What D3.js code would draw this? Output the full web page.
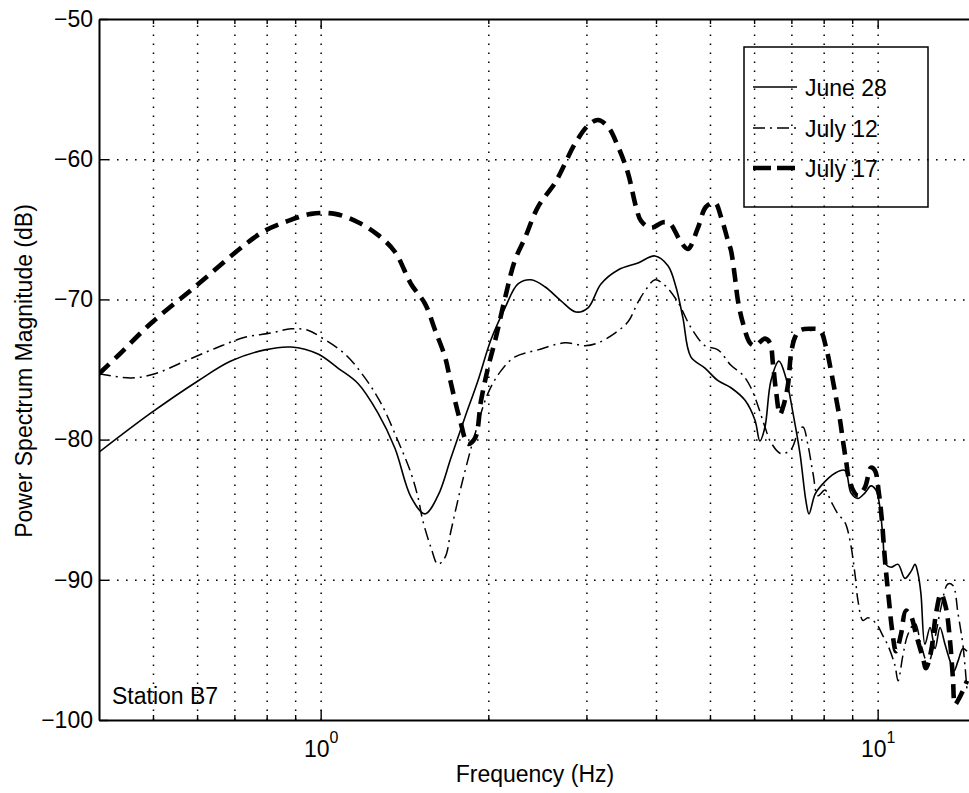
<!DOCTYPE html>
<html>
<head>
<meta charset="utf-8">
<script src="https://cdn.jsdelivr.net/npm/d3@7"></script>
<style>
  body { margin: 0; background: #fff; }
  svg { display: block; font-family: "Liberation Sans", Arial, Helvetica, sans-serif; }
</style>
</head>
<body>
<svg id="chart" width="969" height="793"></svg>
<script>
// ---- Power spectra at station B7 (frequency in Hz, magnitude in dB) ----
const freqJune28 = [0.4, 0.496, 0.603, 0.69, 0.794, 0.885, 0.989, 1.074, 1.167, 1.267, 1.359, 1.453, 1.539, 1.624, 1.714, 1.816, 1.916, 2.021, 2.143, 2.261, 2.386, 2.527, 2.701, 2.873, 3.02, 3.186, 3.419, 3.713, 3.983, 4.203, 4.343, 4.47, 4.62, 4.897, 5.169, 5.453, 5.78, 6.021, 6.147, 6.276, 6.433, 6.65, 6.845, 7.046, 7.254, 7.436, 7.529, 7.717, 7.911, 8.381, 8.735, 8.955, 9.22, 9.489, 9.728, 9.931, 10.1, 10.22, 10.35, 10.57, 10.88, 11.19, 11.48, 11.67, 11.82, 11.96, 12.16, 12.42, 12.68, 12.94, 13.21, 13.49, 13.71, 13.94, 14.23, 14.47];
const dbJune28 = [-80.9, -78.1, -75.8, -74.4, -73.6, -73.4, -73.9, -74.9, -76.0, -78.1, -80.6, -84.1, -85.3, -84.0, -81.3, -78.4, -75.8, -72.9, -70.6, -68.9, -68.6, -69.1, -70.1, -70.9, -70.6, -68.9, -67.9, -67.4, -66.9, -67.6, -69.1, -71.3, -74.1, -74.9, -75.8, -76.3, -77.2, -78.6, -80.1, -79.1, -75.8, -74.4, -75.6, -78.1, -81.0, -84.4, -85.3, -83.9, -83.3, -82.4, -82.2, -83.8, -84.2, -83.8, -83.3, -83.6, -84.9, -87.0, -88.9, -89.1, -88.9, -89.9, -89.4, -88.9, -89.6, -91.0, -94.6, -93.4, -94.9, -93.4, -94.6, -95.8, -96.5, -95.8, -94.9, -95.1];

const freqJuly12 = [0.4, 0.457, 0.504, 0.571, 0.646, 0.731, 0.814, 0.885, 0.949, 1.001, 1.106, 1.201, 1.283, 1.377, 1.453, 1.495, 1.526, 1.578, 1.624, 1.672, 1.714, 1.786, 1.893, 1.997, 2.107, 2.233, 2.456, 2.746, 2.982, 3.147, 3.376, 3.563, 3.713, 3.822, 3.983, 4.15, 4.38, 4.62, 4.897, 5.169, 5.453, 5.73, 5.923, 6.098, 6.276, 6.433, 6.706, 6.989, 7.194, 7.344, 7.498, 7.654, 7.813, 8.043, 8.246, 8.486, 8.735, 8.92, 9.105, 9.22, 9.41, 9.609, 9.931, 10.22, 10.44, 10.74, 10.88, 11.1, 11.33, 11.67, 11.96, 12.31, 12.68, 12.99, 13.37, 13.65, 13.94, 14.23, 14.47];
const dbJuly12 = [-75.3, -75.6, -75.3, -74.4, -73.5, -72.7, -72.4, -72.1, -72.2, -72.7, -73.9, -75.6, -77.4, -80.1, -82.4, -84.1, -85.8, -87.7, -88.9, -88.4, -86.5, -83.4, -79.6, -76.7, -75.1, -74.1, -73.6, -73.1, -73.3, -73.1, -72.4, -71.6, -70.2, -69.4, -68.6, -69.0, -70.2, -72.0, -73.3, -73.6, -74.7, -75.4, -76.3, -77.6, -79.1, -80.2, -81.0, -80.7, -79.5, -79.1, -80.4, -82.4, -84.0, -83.6, -84.4, -85.3, -85.9, -87.2, -89.6, -91.5, -92.9, -92.7, -93.1, -94.0, -94.7, -96.1, -97.2, -95.4, -93.9, -93.1, -94.6, -96.0, -94.1, -92.0, -90.3, -90.4, -92.4, -94.7, -97.9];

const freqJuly17 = [0.4, 0.433, 0.496, 0.595, 0.731, 0.794, 0.874, 0.961, 1.061, 1.167, 1.267, 1.359, 1.453, 1.539, 1.605, 1.672, 1.714, 1.779, 1.839, 1.893, 1.941, 1.997, 2.064, 2.143, 2.233, 2.328, 2.456, 2.634, 2.746, 2.861, 3.02, 3.147, 3.281, 3.419, 3.563, 3.683, 3.76, 3.918, 4.117, 4.238, 4.418, 4.564, 4.757, 4.917, 5.103, 5.232, 5.385, 5.453, 5.543, 5.613, 5.73, 5.898, 6.021, 6.276, 6.407, 6.487, 6.568, 6.678, 6.761, 6.902, 6.989, 7.106, 7.254, 7.592, 7.879, 8.077, 8.246, 8.418, 8.558, 8.665, 8.774, 8.92, 9.22, 9.489, 9.728, 9.888, 10.05, 10.18, 10.26, 10.35, 10.48, 10.61, 10.79, 11.01, 11.24, 11.48, 11.72, 12.06, 12.21, 12.47, 12.73, 12.99, 13.26, 13.49, 13.65, 13.77, 13.94, 14.23, 14.47];
const dbJuly17 = [-75.3, -74.0, -71.7, -69.1, -66.1, -65.1, -64.4, -63.9, -63.9, -64.5, -65.4, -66.6, -68.9, -70.3, -72.2, -74.1, -76.0, -78.6, -80.3, -79.9, -77.2, -74.9, -72.7, -69.9, -67.2, -65.6, -63.4, -61.7, -60.3, -58.9, -57.6, -57.2, -57.7, -59.1, -61.0, -63.4, -64.4, -64.9, -64.5, -64.6, -65.8, -66.4, -64.9, -63.4, -63.1, -64.1, -65.8, -66.5, -68.4, -70.1, -71.7, -73.1, -73.3, -72.8, -73.1, -74.6, -76.5, -78.2, -77.7, -76.1, -73.9, -72.7, -72.2, -72.1, -72.2, -73.4, -75.1, -77.0, -78.6, -80.1, -81.5, -83.1, -84.0, -83.4, -82.0, -82.2, -83.8, -85.8, -87.6, -89.4, -91.5, -93.5, -95.1, -93.9, -92.2, -92.6, -93.9, -95.6, -96.3, -95.1, -92.4, -91.0, -92.0, -94.4, -97.0, -98.9, -98.6, -97.9, -97.2];

const seriesNames = ["June 28", "July 12", "July 17"];
const xMajorTicks = [1, 10];
const xMinorTicks = [0.5, 0.6, 0.7, 0.8, 0.9, 2, 3, 4, 5, 6, 7, 8, 9];
const yTicks = [-100, -90, -80, -70, -60, -50];
const yGridTicks = [-90, -80, -70, -60];
const xLabel = "Frequency (Hz)";
const yLabel = "Power Spectrum Magnitude (dB)";
const stationLabel = "Station B7";

// ---- layout ----
const plotLeft = 99, plotTop = 19, plotBottom = 720;
const decadeWidth = 557;
const xMin = 0.4, xMax = 14.7;
const plotRight = plotLeft + decadeWidth * Math.log10(xMax / xMin);

const svg = d3.select("#chart");
const x = d3.scaleLog().domain([xMin, xMax]).range([plotLeft, plotRight]);
const y = d3.scaleLinear().domain([-100, -50]).range([plotBottom, plotTop]);

const styles = [
  { width: 1.6, dash: null },
  { width: 1.5, dash: "12,5,2,5" },
  { width: 4.6, dash: "14,8" }
];

// clip region for the curves
svg.append("defs").append("clipPath").attr("id", "plot-clip")
  .append("rect").attr("x", plotLeft).attr("y", plotTop)
  .attr("width", plotRight - plotLeft).attr("height", plotBottom - plotTop);

// ---- dotted grid ----
const gridStyle = g => g.selectAll("line")
  .attr("stroke", "#000").attr("stroke-width", 1.5)
  .attr("stroke-dasharray", "1.6,7.4");

svg.append("g")
  .attr("transform", `translate(0,${plotBottom})`)
  .call(d3.axisBottom(x).tickValues(xMajorTicks.concat(xMinorTicks))
    .tickSize(-(plotBottom - plotTop)).tickFormat(""))
  .call(g => g.select(".domain").remove())
  .call(gridStyle);

svg.append("g")
  .attr("transform", `translate(${plotLeft},0)`)
  .call(d3.axisLeft(y).tickValues(yGridTicks)
    .tickSize(-(plotRight - plotLeft)).tickFormat(""))
  .call(g => g.select(".domain").remove())
  .call(gridStyle);

// ---- curves ----
const line = d3.line()
  .x(d => x(d[0]))
  .y(d => y(d[1]))
  .curve(d3.curveCatmullRom.alpha(0.5));

const series = [
  d3.zip(freqJune28, dbJune28),
  d3.zip(freqJuly12, dbJuly12),
  d3.zip(freqJuly17, dbJuly17)
];

const curves = svg.append("g").attr("clip-path", "url(#plot-clip)");
series.forEach((pts, i) => {
  curves.append("path")
    .datum(pts)
    .attr("d", line)
    .attr("fill", "none")
    .attr("stroke", "#000")
    .attr("stroke-width", styles[i].width)
    .attr("stroke-dasharray", styles[i].dash)
    .attr("stroke-linejoin", "round");
});

// ---- axes (ticks point inward) ----
const axisStyle = g => {
  g.select(".domain").attr("stroke", "#000").attr("stroke-width", 2);
  g.selectAll(".tick line").attr("stroke", "#000").attr("stroke-width", 1.4);
  g.selectAll("text").attr("fill", "#000").attr("font-size", 23)
    .attr("font-family", '"Liberation Sans", Arial, Helvetica, sans-serif');
};

svg.append("g")
  .attr("transform", `translate(${plotLeft},0)`)
  .call(d3.axisLeft(y).tickValues(yTicks).tickSizeInner(-9).tickSizeOuter(0)
    .tickPadding(6).tickFormat(d3.format("d")))
  .call(axisStyle);

const bottomMajor = svg.append("g")
  .attr("transform", `translate(0,${plotBottom})`)
  .call(d3.axisBottom(x).tickValues(xMajorTicks).tickSizeInner(-10)
    .tickSizeOuter(0).tickFormat(""))
  .call(axisStyle);

svg.append("g")
  .attr("transform", `translate(0,${plotBottom})`)
  .call(d3.axisBottom(x).tickValues(xMinorTicks).tickSizeInner(-5)
    .tickSizeOuter(0).tickFormat(""))
  .call(axisStyle)
  .call(g => g.select(".domain").remove());

svg.append("g")
  .attr("transform", `translate(0,${plotTop})`)
  .call(d3.axisTop(x).tickValues(xMajorTicks).tickSizeInner(-10)
    .tickSizeOuter(0).tickFormat(""))
  .call(axisStyle);

svg.append("g")
  .attr("transform", `translate(0,${plotTop})`)
  .call(d3.axisTop(x).tickValues(xMinorTicks).tickSizeInner(-5)
    .tickSizeOuter(0).tickFormat(""))
  .call(axisStyle)
  .call(g => g.select(".domain").remove());

// power-of-ten tick labels
bottomMajor.selectAll(".tick").each(function (d) {
  const t = d3.select(this).append("text")
    .attr("y", 37)
    .attr("text-anchor", "middle")
    .attr("fill", "#000")
    .attr("font-size", 23);
  t.append("tspan").text("10");
  t.append("tspan").attr("dy", -14).attr("font-size", 16)
    .text(Math.round(Math.log10(d)));
});

// ---- axis titles and annotation ----
svg.append("text")
  .attr("x", (plotLeft + plotRight) / 2).attr("y", 782)
  .attr("text-anchor", "middle").attr("font-size", 23)
  .text(xLabel);

svg.append("text")
  .attr("transform", `translate(32,371) rotate(-90)`)
  .attr("text-anchor", "middle").attr("font-size", 23)
  .text(yLabel);

svg.append("text")
  .attr("x", 112).attr("y", 704)
  .attr("font-size", 23)
  .text(stationLabel);

// ---- legend ----
const legend = svg.append("g");
legend.append("rect")
  .attr("x", 744).attr("y", 47).attr("width", 184).attr("height", 160)
  .attr("fill", "none").attr("stroke", "#000").attr("stroke-width", 1.5);

const legendRows = [87, 128, 168];
seriesNames.forEach((name, i) => {
  legend.append("line")
    .attr("x1", 753).attr("x2", 797)
    .attr("y1", legendRows[i]).attr("y2", legendRows[i])
    .attr("stroke", "#000")
    .attr("stroke-width", styles[i].width)
    .attr("stroke-dasharray", i === 2 ? "18,6" : styles[i].dash);
  legend.append("text")
    .attr("x", 805).attr("y", legendRows[i] + 8.5)
    .attr("font-size", 23)
    .text(name);
});
</script>
</body>
</html>
